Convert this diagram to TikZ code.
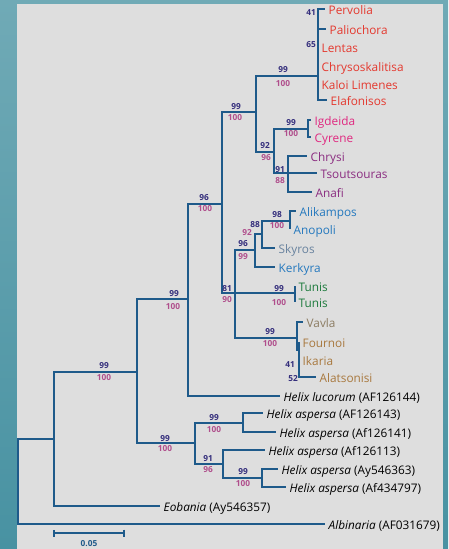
\documentclass[tikz,border=0pt]{standalone}
\usepackage{fontspec}
\setmainfont{Open Sans}
\usetikzlibrary{positioning,arrows.meta}

\definecolor{tree}{RGB}{30,90,138}
\definecolor{bsup}{RGB}{52,46,124}
\definecolor{bsdn}{RGB}{176,78,140}
\definecolor{crete}{RGB}{228,56,46}
\definecolor{libya}{RGB}{224,40,128}
\definecolor{aegean}{RGB}{138,44,128}
\definecolor{ionian}{RGB}{36,120,190}
\definecolor{skyroscol}{RGB}{104,130,158}
\definecolor{tuniscol}{RGB}{28,122,60}
\definecolor{vavlacol}{RGB}{140,124,98}
\definecolor{samos}{RGB}{168,120,62}
\definecolor{panel}{RGB}{222,222,222}
\definecolor{seatop}{RGB}{112,170,182}
\definecolor{seabot}{RGB}{72,146,162}

\tikzset{
  br/.style={draw=tree, line width=1.8pt},
  thk/.style={line width=2.9pt},
  taxon/.style={anchor=base west, inner sep=0pt, xshift=3.5pt, yshift=-5.6pt, font=\fontsize{11.8}{13}\selectfont},
  bsu/.style={inner sep=0pt, text=bsup, font=\bfseries\fontsize{8.3}{9}\selectfont},
  bsd/.style={inner sep=0pt, text=bsdn, font=\bfseries\fontsize{8.3}{9}\selectfont},
}

\begin{document}
\begin{tikzpicture}[x=1pt,y=-1pt]
\shade[top color=seatop, bottom color=seabot] (0,0) rectangle (448,549);
\fill[panel] (17,4) rectangle (443,549);
\useasboundingbox (0,0) rectangle (448,549);

\coordinate (root) at (18,481);
\coordinate (n1) at (54,439);
\coordinate (n2) at (137,372);
\coordinate (n3) at (188,299);
\coordinate (n4) at (222,204);
\coordinate (n5) at (256,112);
\coordinate (nred) at (318,76);
\coordinate (n92) at (274,152);
\coordinate (nIC) at (308,129);
\coordinate (n91) at (288,173);
\coordinate (n81) at (235,293);
\coordinate (nblue) at (255,250);
\coordinate (n88) at (262,234);
\coordinate (n98) at (290,221);
\coordinate (ntun) at (295,293);
\coordinate (nbrown) at (297,338);
\coordinate (nbr2) at (299,350);
\coordinate (nasp) at (195,443);
\coordinate (n99a) at (243,423);
\coordinate (n91a) at (223,464);
\coordinate (n99b) at (262,478);

\coordinate (pervolia) at (325,9);
\coordinate (paliochora) at (326,29);
\coordinate (lentas) at (318,47);
\coordinate (chryso) at (318,66);
\coordinate (kaloi) at (318,84);
\coordinate (elaf) at (327,100);
\coordinate (igdeida) at (311,120);
\coordinate (cyrene) at (311,137);
\coordinate (chrysi) at (307,156);
\coordinate (tsout) at (317,173);
\coordinate (anafi) at (312,192);
\coordinate (alikampos) at (296,211);
\coordinate (anopoli) at (290,229);
\coordinate (skyros) at (275,248);
\coordinate (kerkyra) at (275,267);
\coordinate (tunisA) at (295,286);
\coordinate (tunisB) at (295,302);
\coordinate (vavla) at (303,322);
\coordinate (fournoi) at (299,342);
\coordinate (ikaria) at (299,360);
\coordinate (alatsonisi) at (316,377);
\coordinate (lucorum) at (280,396);
\coordinate (asp1) at (263,413);
\coordinate (asp2) at (276,432);
\coordinate (asp3) at (265,450);
\coordinate (asp4) at (278,469);
\coordinate (asp5) at (286,487);
\coordinate (eobania) at (160,506);
\coordinate (albinaria) at (325,524);

\draw[br] (root) |- (n1);
\draw[br] (root) |- (albinaria);
\draw[br] (n1) |- (n2);
\draw[br] (n1) |- (eobania);
\draw[br] (n2) |- (n3);
\draw[br] (n2) |- (nasp);
\draw[br] (n3) |- (n4);
\draw[br] (n3) |- (lucorum);
\draw[br] (n4) |- (n5);
\draw[br] (n4) |- (n81);
\draw[br] (n5) |- (nred);
\draw[br] (n5) |- (n92);
\foreach \t in {pervolia,paliochora,lentas,chryso,kaloi,elaf}
  \draw[br] (nred) |- (\t);
\draw[br,thk] (lentas) -- (lentas |- elaf);
\draw[br] (n92) |- (nIC);
\draw[br] (n92) |- (n91);
\draw[br] (nIC) |- (igdeida);
\draw[br] (nIC) |- (cyrene);
\draw[br] (n91) |- (chrysi);
\draw[br] (n91) |- (tsout);
\draw[br,thk] (n91) |- (anafi);
\draw[br] (n81) |- (nblue);
\draw[br] (n81) |- (ntun);
\draw[br,thk] (n81) |- (nbrown);
\draw[br] (nblue) |- (n88);
\draw[br] (nblue) |- (kerkyra);
\draw[br] (n88) |- (n98);
\draw[br] (n88) |- (skyros);
\draw[br] (n98) |- (alikampos);
\draw[br] (n98) |- (anopoli);
\draw[br] (ntun) |- (tunisA);
\draw[br] (ntun) |- (tunisB);
\draw[br] (nbrown) |- (vavla);
\draw[br,thk] (nbrown) |- (nbr2);
\foreach \t in {fournoi,ikaria,alatsonisi}
  \draw[br] (nbr2) |- (\t);
\draw[br] (nasp) |- (n99a);
\draw[br] (nasp) |- (n91a);
\draw[br] (n99a) |- (asp1);
\draw[br] (n99a) |- (asp2);
\draw[br] (n91a) |- (asp3);
\draw[br] (n91a) |- (n99b);
\draw[br] (n99b) |- (asp4);
\draw[br] (n99b) |- (asp5);

\node[taxon, text=crete] (tPervolia) at (pervolia) {Pervolia};
\node[taxon, text=crete] (tPaliochora) at (paliochora) {Paliochora};
\node[taxon, text=crete] (tLentas) at (lentas) {Lentas};
\node[taxon, text=crete] (tChryso) at (chryso) {Chrysoskalitisa};
\node[taxon, text=crete] (tKaloi) at (kaloi) {Kaloi Limenes};
\node[taxon, text=crete] (tElaf) at (elaf) {Elafonisos};
\node[taxon, text=libya] (tIgdeida) at (igdeida) {Igdeida};
\node[taxon, text=libya] (tCyrene) at (cyrene) {Cyrene};
\node[taxon, text=aegean] (tChrysi) at (chrysi) {Chrysi};
\node[taxon, text=aegean] (tTsout) at (tsout) {Tsoutsouras};
\node[taxon, text=aegean] (tAnafi) at (anafi) {Anafi};
\node[taxon, text=ionian] (tAlikampos) at (alikampos) {Alikampos};
\node[taxon, text=ionian] (tAnopoli) at (anopoli) {Anopoli};
\node[taxon, text=skyroscol] (tSkyros) at (skyros) {Skyros};
\node[taxon, text=ionian] (tKerkyra) at (kerkyra) {Kerkyra};
\node[taxon, text=tuniscol] (tTunisA) at (tunisA) {Tunis};
\node[taxon, text=tuniscol] (tTunisB) at (tunisB) {Tunis};
\node[taxon, text=vavlacol] (tVavla) at (vavla) {Vavla};
\node[taxon, text=samos] (tFournoi) at (fournoi) {Fournoi};
\node[taxon, text=samos] (tIkaria) at (ikaria) {Ikaria};
\node[taxon, text=samos] (tAlatsonisi) at (alatsonisi) {Alatsonisi};
\node[taxon] (tLucorum) at (lucorum) {\textit{Helix lucorum} (AF126144)};
\node[taxon] (tAsp1) at (asp1) {\textit{Helix aspersa} (AF126143)};
\node[taxon] (tAsp2) at (asp2) {\textit{Helix aspersa} (Af126141)};
\node[taxon] (tAsp3) at (asp3) {\textit{Helix aspersa} (Af126113)};
\node[taxon] (tAsp4) at (asp4) {\textit{Helix aspersa} (Ay546363)};
\node[taxon] (tAsp5) at (asp5) {\textit{Helix aspersa} (Af434797)};
\node[taxon] (tEobania) at (eobania) {\textit{Eobania} (Ay546357)};
\node[taxon] (tAlbinaria) at (albinaria) {\textit{Albinaria} (AF031679)};

\node[bsu] (bPervolia) at (311,13) {41};
\node[bsu] (bLentas) at (311,45) {65};
\node[bsu] (bRedU) at (283,70) {99};
\node[bsd] (bRedD) at (283,84) {100};
\node[bsu] (bN5U) at (236,107) {99};
\node[bsd] (bN5D) at (235,118) {100};
\node[bsu] (bICU) at (291,123) {99};
\node[bsd] (bICD) at (291,134) {100};
\node[bsu] (b92U) at (265,146) {92};
\node[bsd] (b92D) at (266,158) {96};
\node[bsu] (b91U) at (280,170) {91};
\node[bsd] (b91D) at (280,181) {88};
\node[bsu] (bN4U) at (204,198) {96};
\node[bsd] (bN4D) at (205,209) {100};
\node[bsu] (b98U) at (277,215) {98};
\node[bsd] (b98D) at (277,226) {100};
\node[bsu] (b88U) at (255,225) {88};
\node[bsd] (b88D) at (247,233) {92};
\node[bsu] (bBlueU) at (243,244) {96};
\node[bsd] (bBlueD) at (243,257) {99};
\node[bsu] (b81U) at (227,289) {81};
\node[bsd] (b81D) at (227,300) {90};
\node[bsu] (bTunU) at (279,289) {99};
\node[bsd] (bTunD) at (279,303) {100};
\node[bsu] (bBrU) at (270,332) {99};
\node[bsd] (bBrD) at (270,344) {100};
\node[bsu] (bIkaria) at (290,365) {41};
\node[bsu] (bAlats) at (293,379) {52};
\node[bsu] (bN3U) at (174,294) {99};
\node[bsd] (bN3D) at (173,307) {100};
\node[bsu] (bN2U) at (104,366) {99};
\node[bsd] (bN2D) at (104,378) {100};
\node[bsu] (bAspU) at (165,439) {99};
\node[bsd] (bAspD) at (165,449) {100};
\node[bsu] (b99aU) at (214,418) {99};
\node[bsd] (b99aD) at (214,430) {100};
\node[bsu] (b91aU) at (208,459) {91};
\node[bsd] (b91aD) at (208,470) {96};
\node[bsu] (b99bU) at (243,472) {99};
\node[bsd] (b99bD) at (243,484) {100};

\coordinate (sbL) at (53,533);
\coordinate (sbR) at (125,533);
\coordinate (sbM) at (89,533);
\draw[br, {Bar[width=7pt]}-{Bar[width=7pt]}] (sbL) -- (sbR);
\node[bsu, text=tree, below=7pt of sbM] (sbLabel) {0.05};
\end{tikzpicture}
\end{document}
